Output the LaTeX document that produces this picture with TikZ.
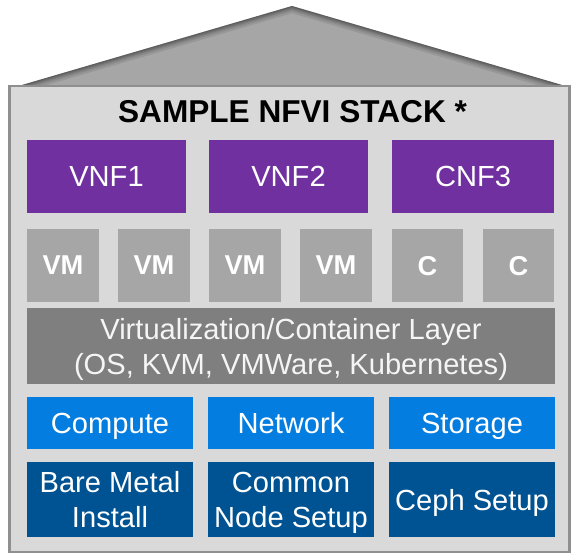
\documentclass[tikz,border=0pt]{standalone}
\usepackage{fontspec}
\setmainfont{Liberation Sans}
\definecolor{bgbox}{HTML}{D9D9D9}
\definecolor{boxline}{HTML}{8F8F8F}
\definecolor{roofgray}{HTML}{A6A6A6}
\definecolor{vnfpurple}{HTML}{7030A0}
\definecolor{vmgray}{HTML}{A6A6A6}
\definecolor{virtgray}{HTML}{7F7F7F}
\definecolor{hwblue}{HTML}{047DE0}
\definecolor{setupblue}{HTML}{005392}
\begin{document}
\begin{tikzpicture}[x=1pt,y=-1pt,
  blk/.style={inner sep=0pt, outer sep=0pt, anchor=north west, text=white, align=center, text depth=0pt,
    font=\fontsize{29.1}{35}\selectfont},
  vnfbox/.style={blk, fill=vnfpurple, minimum width=159pt, minimum height=73pt},
  vmbox/.style={blk, fill=vmgray, minimum width=72pt, minimum height=73pt, font=\fontsize{27.3}{32}\selectfont\bfseries},
  virtbox/.style={blk, fill=virtgray, minimum width=528pt, minimum height=76pt, text=white!96!black},
  hwbox/.style={blk, fill=hwblue, minimum width=166pt, minimum height=52pt},
  setupbox/.style={blk, fill=setupblue, minimum width=166pt, minimum height=75pt}
]
\useasboundingbox (0,0) rectangle (572,553);
% roof
\begin{scope}
  \clip (22,85) -- (292,6) -- (562,85) -- cycle;
  \fill[roofgray] (22,85) -- (292,6) -- (562,85) -- cycle;
  \foreach \w in {14,10,7,5,3,1.5}
    \draw[black, opacity=0.09, line width=\w pt, line join=round] (22,85) -- (292,6) -- (562,85);
\end{scope}
% house body
\node[draw=boxline, line width=2.5pt, fill=bgbox, inner sep=0pt, outer sep=0pt, anchor=north west,
  minimum width=560pt, minimum height=466pt] (house) at (9.25,86.25) {};
\node[anchor=base, inner sep=0pt, font=\fontsize{31.6}{36}\selectfont\bfseries] (title) at (292.5,123) {SAMPLE NFVI STACK *};
% VNFs
\node[vnfbox] (vnf1) at (27,140) {VNF1};
\node[vnfbox] (vnf2) at (209,140) {VNF2};
\node[vnfbox, minimum width=162pt] (cnf3) at (392,140) {CNF3};
% VMs / containers
\node[vmbox] (vm1) at (27,229) {VM};
\node[vmbox] (vm2) at (118,229) {VM};
\node[vmbox] (vm3) at (209,229) {VM};
\node[vmbox] (vm4) at (300,229) {VM};
\node[vmbox, minimum width=71pt] (c1) at (392,229) {C};
\node[vmbox, minimum width=71pt] (c2) at (483,229) {C};
% virtualization layer
\node[virtbox] (virt) at (27,308) {Virtualization/Container Layer\\(OS, KVM, VMWare, Kubernetes)};
% hardware
\node[hwbox] (compute) at (27,397) {Compute};
\node[hwbox] (network) at (208,397) {Network};
\node[hwbox] (storage) at (389,397) {Storage};
% setup
\node[setupbox] (bare) at (27,462) {Bare Metal\\Install};
\node[setupbox] (common) at (208,462) {Common\\Node Setup};
\node[setupbox] (ceph) at (389,462) {Ceph Setup};
\end{tikzpicture}
\end{document}
